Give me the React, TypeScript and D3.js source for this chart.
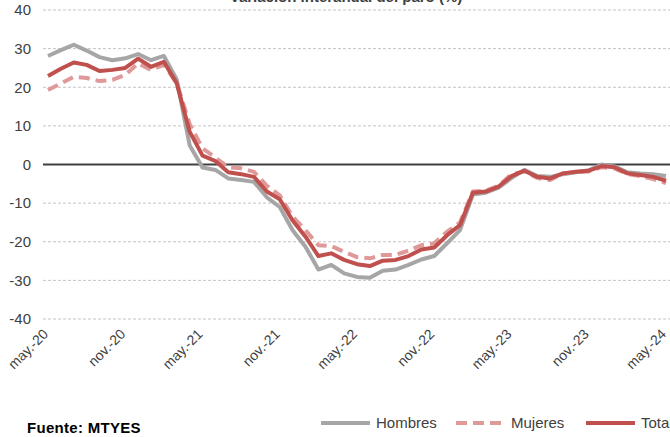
import React from 'react';
import * as d3 from 'd3';

// monthly series, may-20 .. may-24
const hombres = [
  28.1, 29.6, 31.0, 29.5, 27.8, 27.0, 27.5, 28.6, 27.0, 28.1,
  22.0, 5.0, -0.8, -1.4, -3.6, -4.0, -4.5, -8.5, -11.0, -17.0,
  -21.3, -27.2, -26.0, -28.2, -29.1, -29.3, -27.5, -27.2, -26.0, -24.6,
  -23.7, -20.4, -17.0, -7.8, -7.3, -6.0, -3.5, -1.4, -3.0, -3.2,
  -2.5, -2.0, -1.5, 0.0, -0.5, -2.0, -2.3, -2.5, -3.0,
];
const mujeres = [
  19.3, 21.0, 22.7, 22.4, 21.6, 21.9, 23.2, 26.2, 24.5, 25.8,
  21.1, 10.5, 4.2, 1.8, -0.7, -1.0, -1.9, -5.5, -8.0, -13.5,
  -17.0, -20.9, -21.1, -22.6, -24.0, -24.3, -23.4, -23.4, -22.3, -20.9,
  -20.4, -17.4, -15.0, -7.0, -6.8, -5.5, -2.5, -1.8, -3.5, -4.0,
  -2.3, -2.0, -1.8, -0.7, -1.0, -2.5, -3.0, -3.8, -4.8,
];
const total = [
  22.9, 24.8, 26.4, 25.8, 24.2, 24.5, 25.0, 27.4, 25.3, 26.6,
  21.0, 8.5, 2.3, 0.9, -2.0, -2.5, -3.2, -7.0, -9.0, -14.5,
  -18.7, -23.7, -23.0, -24.7, -25.8, -26.3, -24.9, -24.7, -23.7, -22.0,
  -21.5, -18.3, -15.7, -7.3, -7.0, -5.7, -3.0, -1.6, -3.2, -3.6,
  -2.3, -1.9, -1.6, -0.4, -0.7, -2.3, -2.7, -3.2, -4.2,
];
const tickLabels = ['may.-20', 'nov.-20', 'may.-21', 'nov.-21', 'may.-22', 'nov.-22', 'may.-23', 'nov.-23', 'may.-24'];
const yTicks = [40, 30, 20, 10, 0, -10, -20, -30, -40];

const series = [
  { name: 'Hombres', data: hombres, color: '#a6a6a6', dash: undefined },
  { name: 'Mujeres', data: mujeres, color: '#e09999', dash: '11 6' },
  { name: 'Total', data: total, color: '#c0504d', dash: undefined },
];

const font = '"Liberation Sans", Arial, sans-serif';

export default function App() {
  const width = 670;
  const height = 437;

  const x = d3.scaleLinear().domain([0, hombres.length - 1]).range([48, 666]);
  const y = d3.scaleLinear().domain([-40, 40]).range([319, 10]);

  const line = d3.line<number>()
    .x((d, i) => x(i))
    .y(d => y(d));

  return (
    <svg width={width} height={height} style={{ position: 'absolute', left: 0, top: 0, fontFamily: font }}>
      <rect width={width} height={height} fill="#fff" />
      <text x={346} y={2} textAnchor="middle" fontSize={15} fontWeight="bold" fill="#404040">
        Variación interanual del paro (%)
      </text>

      {yTicks.map(t => (
        <g key={t}>
          {t !== 0 && (
            <line x1={43} x2={670} y1={y(t)} y2={y(t)} stroke="#c4c4c4" strokeWidth={1} strokeDasharray="3 2" />
          )}
          <text x={31} y={y(t)} dy="0.35em" textAnchor="end" fontSize={15} fill="#404040">{t}</text>
        </g>
      ))}
      <line x1={43} x2={670} y1={y(0)} y2={y(0)} stroke="#404040" strokeWidth={2} />

      {series.map(s => (
        <path key={s.name} d={line(s.data) ?? ''} fill="none" stroke={s.color} strokeWidth={4}
          strokeDasharray={s.dash} strokeLinejoin="round" />
      ))}

      {tickLabels.map((l, i) => (
        <text key={l} transform={`translate(${x(i * 6) + 1},${335}) rotate(-45)`} textAnchor="end"
          fontSize={14} fill="#404040">{l}</text>
      ))}

      <text x={27} y={433} fontSize={15} fontWeight="bold" letterSpacing={0.3} fill="#000">Fuente: MTYES</text>

      {series.map((s, i) => {
        const lx = [321, 456, 586][i];
        return (
          <g key={s.name}>
            <line x1={lx} x2={lx + 49} y1={423} y2={423} stroke={s.color} strokeWidth={4} strokeDasharray={s.dash} />
            <text x={lx + 55} y={423} dy="0.35em" fontSize={15} fill="#404040">{s.name}</text>
          </g>
        );
      })}
    </svg>
  );
}
